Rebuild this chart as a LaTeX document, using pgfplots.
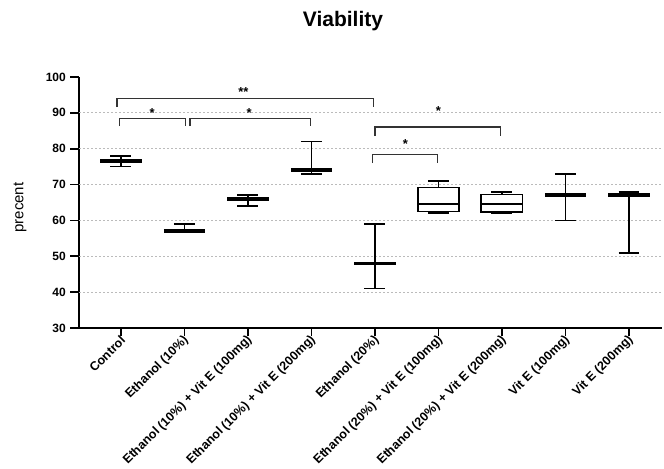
\documentclass[border=0pt]{standalone}
\usepackage{pgfplots}
\pgfplotsset{compat=1.18}
\usepackage{fontspec}
\setmainfont{Liberation Sans}
\definecolor{gridc}{HTML}{BBBBBB}
\definecolor{brk}{HTML}{333333}
\begin{document}
\begin{tikzpicture}
\begin{axis}[
  name=ax,
  scale only axis,
  width=583pt, height=251pt,
  xmin=-0.66, xmax=8.52,
  ymin=30, ymax=100,
  ytick={30,40,...,100},
  xtick={0,...,8},
  xticklabels={Control, Ethanol (10\%), Ethanol (10\%) + Vit E (100mg), Ethanol (10\%) + Vit E (200mg), Ethanol (20\%), Ethanol (20\%) + Vit E (100mg), Ethanol (20\%) + Vit E (200mg), Vit E (100mg), Vit E (200mg)},
  axis x line*=bottom,
  axis y line*=left,
  axis line style={line width=1.8pt, black, -},
  tick align=outside,
  major tick length=8pt,
  every tick/.style={line width=1.8pt, black, solid},
  /pgf/number format/assume math mode=true,
  yticklabel style={font=\fontsize{12}{12}\selectfont\bfseries, inner sep=1pt, xshift=-4pt},
  xticklabel style={font=\fontsize{12.5}{13}\selectfont\bfseries, rotate=45, anchor=east, inner sep=1pt, yshift=-3pt, xshift=1pt},
  unbounded coords=jump,
  clip=false,
  wh/.style={black, line width=1.7pt, mark=none},
  md/.style={black, line width=3.8pt, mark=none},
  mdt/.style={black, line width=1.6pt, mark=none},
]
% grid lines and y tick marks
\pgfplotsinvokeforeach{40,50,60,70,80,90}{
  \draw[gridc, line width=0.8pt, dash pattern=on 2pt off 2pt] (-0.66,#1) -- (8.52,#1);
}
\pgfplotsinvokeforeach{30,40,50,60,70,80,90,100}{
  \draw[black, line width=1.8pt] (-0.66,#1) -- (-0.80,#1);
}
% whiskers and caps
\addplot[wh] coordinates {(0,75) (0,78) (nan,nan) (-0.165,75) (0.165,75) (nan,nan) (-0.165,78) (0.165,78)};
\addplot[wh] coordinates {(1,57) (1,59) (nan,nan) (0.835,59) (1.165,59)};
\addplot[wh] coordinates {(2,64) (2,67) (nan,nan) (1.835,64) (2.165,64) (nan,nan) (1.835,67) (2.165,67)};
\addplot[wh] coordinates {(3,73) (3,82) (nan,nan) (2.835,73) (3.165,73) (nan,nan) (2.835,82) (3.165,82)};
\addplot[wh] coordinates {(4,41) (4,59) (nan,nan) (3.835,41) (4.165,41) (nan,nan) (3.835,59) (4.165,59)};
\addplot[wh] coordinates {(5,62) (5,62.5) (nan,nan) (5,69.2) (5,71) (nan,nan) (4.835,62) (5.165,62) (nan,nan) (4.835,71) (5.165,71)};
\addplot[wh] coordinates {(6,62) (6,62.3) (nan,nan) (6,67.2) (6,68) (nan,nan) (5.835,62) (6.165,62) (nan,nan) (5.835,68) (6.165,68)};
\addplot[wh] coordinates {(7,60) (7,73) (nan,nan) (6.835,60) (7.165,60) (nan,nan) (6.835,73) (7.165,73)};
\addplot[wh] coordinates {(8,51) (8,68) (nan,nan) (7.835,51) (8.165,51) (nan,nan) (7.835,68) (8.165,68)};
% boxes
\addplot[wh] coordinates {(4.675,62.5) (5.325,62.5) (5.325,69.2) (4.675,69.2) (4.675,62.5)} -- cycle;
\addplot[wh] coordinates {(5.675,62.3) (6.325,62.3) (6.325,67.2) (5.675,67.2) (5.675,62.3)} -- cycle;
% medians
\addplot[md] coordinates {(-0.325,76.5) (0.325,76.5)};
\addplot[md] coordinates {(0.675,57) (1.325,57)};
\addplot[md] coordinates {(1.675,66) (2.325,66)};
\addplot[md] coordinates {(2.675,74) (3.325,74)};
\addplot[md] coordinates {(3.675,48) (4.325,48)};
\addplot[mdt] coordinates {(4.675,64.5) (5.325,64.5)};
\addplot[mdt] coordinates {(5.675,64.5) (6.325,64.5)};
\addplot[md] coordinates {(6.675,67) (7.325,67)};
\addplot[md] coordinates {(7.675,67) (8.325,67)};
% significance brackets
\draw[brk, line width=1.3pt] (-0.06,91.6) -- (-0.06,94) -- (3.98,94) -- (3.98,91.6);
\draw[brk, line width=1.3pt] (-0.02,86.3) -- (-0.02,88.4) -- (1.02,88.4) -- (1.02,86.3);
\draw[brk, line width=1.3pt] (1.09,86.3) -- (1.09,88.4) -- (2.99,88.4) -- (2.99,86.3);
\draw[brk, line width=1.3pt] (4.0,83.5) -- (4.0,86.05) -- (5.98,86.05) -- (5.98,83.5);
\draw[brk, line width=1.3pt] (3.96,76.0) -- (3.96,78.4) -- (4.99,78.4) -- (4.99,76.0);
\node[font=\fontsize{13}{13}\selectfont\bfseries, yshift=-2pt] at (1.93,96.5) {**};
\node[font=\fontsize{13}{13}\selectfont\bfseries, yshift=-2.5pt] at (0.49,90.7) {*};
\node[font=\fontsize{13}{13}\selectfont\bfseries, yshift=-2.5pt] at (2.02,90.7) {*};
\node[font=\fontsize{13}{13}\selectfont\bfseries, yshift=-2.5pt] at (5.0,91.3) {*};
\node[font=\fontsize{13}{13}\selectfont\bfseries, yshift=-2.5pt] at (4.48,82.1) {*};
\end{axis}
\node[font=\fontsize{21}{22}\selectfont\bfseries] at ([shift={(264pt,56pt)}]ax.north west) {Viability};
\node[font=\fontsize{15}{16}\selectfont, rotate=90] at ([shift={(-59pt,-5pt)}]ax.west) {precent};
\pgfresetboundingbox
\path ([shift={(-79pt,-140pt)}]ax.south west) rectangle ([shift={(2pt,77pt)}]ax.north east);
\end{tikzpicture}
\end{document}
